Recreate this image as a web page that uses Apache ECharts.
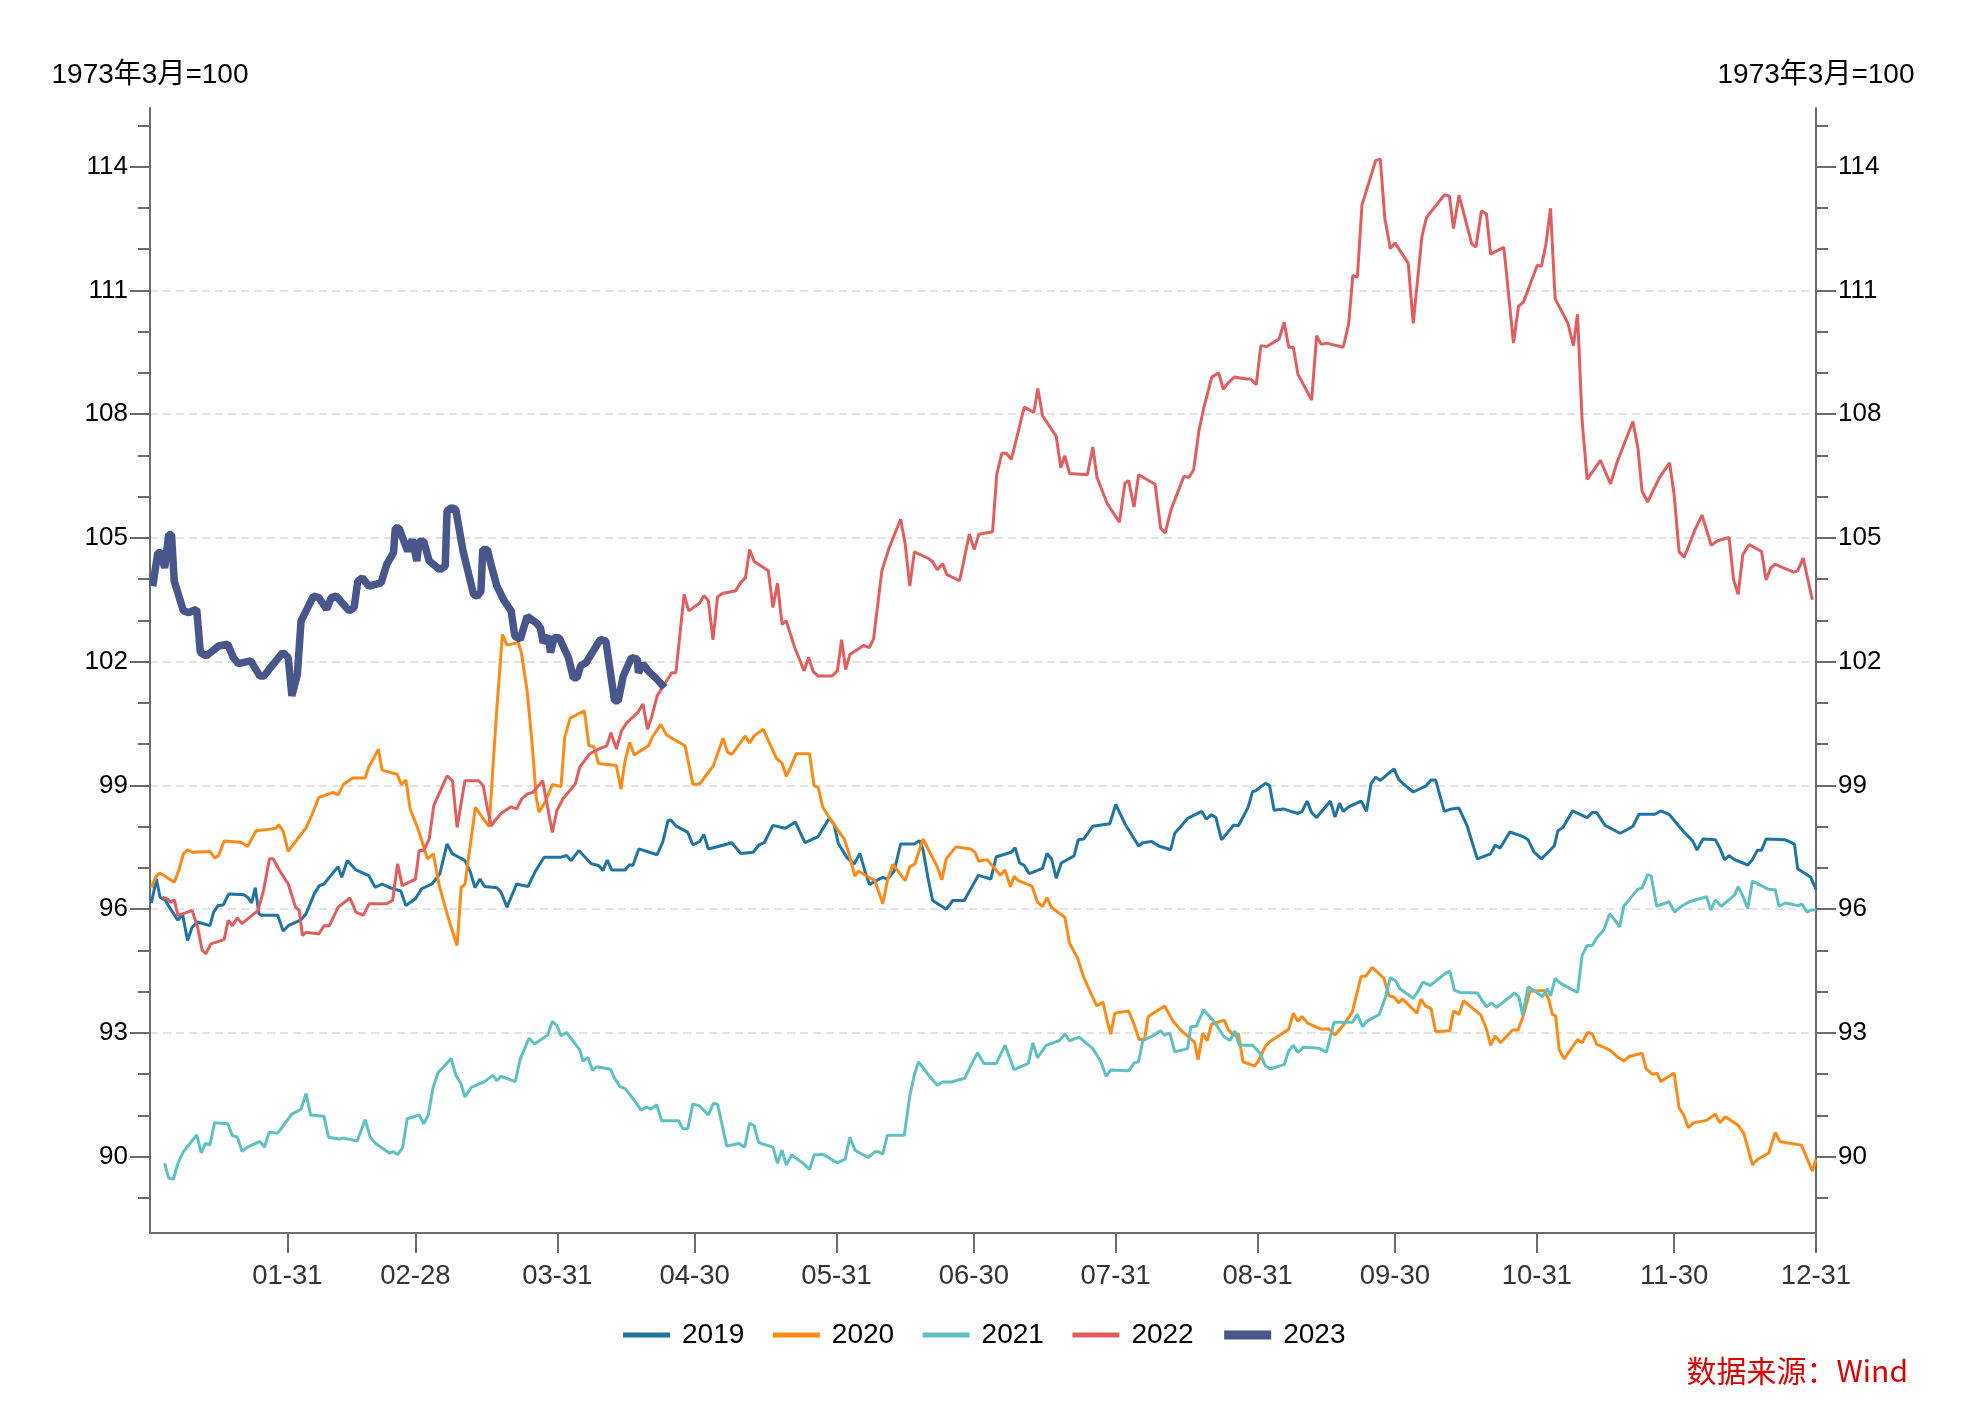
<!DOCTYPE html>
<html><head><meta charset="utf-8">
<script src="https://cdn.jsdelivr.net/npm/echarts@6/dist/echarts.min.js"></script>
<style>html,body{margin:0;padding:0;background:#fff}#c{width:1966px;height:1407px}</style>
</head><body><div id="c"></div>
<script>
// ---- data (x = day of year, 0 = 01-01 ; y = index, 1973年3月=100) ----
const years = ['2019', '2020', '2021', '2022', '2023'];

const s2019 = [[0.3,96.15],[1.4,96.73],[2.2,96.29],[3.4,96.21],[4.5,96.0],[6.1,95.73],[7.1,95.89],[8.2,95.24],[9.2,95.56],[10.4,95.69],[13.1,95.6],[13.9,95.93],[14.9,96.09],[16,96.1],[17.2,96.37],[20.5,96.35],[21.3,96.29],[22.2,96.15],[23,96.52],[23.8,95.89],[24.4,95.85],[27.9,95.85],[28.3,95.83],[29.1,95.47],[30.2,95.6],[33,95.74],[34.1,95.89],[35.9,96.37],[37,96.57],[38,96.61],[41.1,97.03],[41.9,96.77],[43.1,97.18],[45,96.95],[47.8,96.81],[49.2,96.53],[50.7,96.61],[52.4,96.52],[54.8,96.44],[55.9,96.09],[58,96.25],[59.3,96.49],[61.6,96.61],[63.3,96.85],[64.9,97.58],[66.1,97.34],[68.8,97.18],[70,96.9],[71,96.52],[72.1,96.73],[73.1,96.55],[75.8,96.52],[76.7,96.41],[78,96.05],[80.1,96.61],[82.6,96.55],[84.2,96.92],[86.1,97.26],[89.8,97.26],[91,97.3],[92,97.18],[93.7,97.42],[96.4,97.1],[98,97.06],[99,96.94],[99.9,97.19],[100.9,96.95],[103.8,96.95],[104.8,97.08],[105.5,97.06],[106.8,97.46],[110.8,97.32],[112,97.62],[113.2,98.15],[113.8,98.16],[114.9,98.02],[117.5,97.86],[118.6,97.56],
[120.1,97.64],[121,97.81],[122,97.46],[125.2,97.55],[127.1,97.61],[129.1,97.35],[131.8,97.38],[133,97.55],[134.2,97.61],[136.1,98.03],[138.8,97.96],[141,98.11],[143.1,97.61],[145.9,97.75],[148.4,98.2],[149.4,98.07],[150.4,97.59],[152.3,97.25],[153.8,97.09],[155.1,97.35],[156.2,96.92],[157.2,96.6],[158.7,96.69],[160.1,96.77],[161.1,96.73],[162.6,96.92],[164,97.58],[167,97.58],[168.1,97.66],[168.9,97.44],[170.1,96.69],[171,96.21],[174,96.0],[175.4,96.21],[177.9,96.21],[181,96.82],[182.5,96.77],[183.7,96.73],[184.9,97.27],[188.2,97.38],[189,97.49],[190,97.12],[191,97.06],[192.1,96.86],[195,96.99],[196,97.35],[197,97.21],[198,96.75],[199.1,97.12],[201.9,97.29],[202.8,97.68],[204,97.7],[206,98.01],[209.7,98.07],[211,98.54],[213,98.07],[216,97.53],[216.9,97.61],[218.9,97.64],[220.4,97.53],[223,97.44],[223.9,97.84],[226.7,98.2],[229.8,98.37],[230.8,98.18],[231.9,98.29],[232.9,98.22],[234.1,97.68],[236.8,98.04],[237.8,98.02],[239.9,98.46],[240.9,98.85],
[241.6,98.87],[243.7,99.05],[244.6,99.0],[245.6,98.4],[247.6,98.43],[250.8,98.32],[251.7,98.37],[252.8,98.62],[253.8,98.34],[254.9,98.22],[257.9,98.62],[258.9,98.23],[259.9,98.57],[260.7,98.37],[261.9,98.48],[264.6,98.62],[265.8,98.37],[266.8,99.05],[267.8,99.2],[268.8,99.12],[271.8,99.4],[272.8,99.15],[273.9,99.03],[276,98.84],[278.7,98.98],[279.9,99.13],[280.9,99.13],[282.8,98.37],[284.4,98.43],[286,98.45],[287.8,98.01],[290,97.22],[292.9,97.34],[293.9,97.55],[295,97.48],[297.1,97.87],[300,97.76],[301.1,97.68],[302.4,97.38],[304,97.22],[306.8,97.53],[307.6,97.9],[308.7,97.98],[310.8,98.38],[314,98.22],[315.1,98.34],[316.1,98.34],[317.9,98.03],[321.2,97.84],[322.8,97.93],[324,98.01],[325.3,98.3],[328.8,98.3],[330.1,98.38],[331.9,98.3],[334.9,97.9],[337.1,97.65],[338,97.43],[339.3,97.7],[342,97.68],[343,97.48],[344,97.2],[345,97.3],[346.2,97.2],[349.1,97.07],[350.1,97.2],[351.2,97.43],[352.1,97.43],[353.1,97.7],[357.3,97.68],[358.3,97.63],[359.3,97.57],[360,96.98],[362.8,96.78],[364,96.48]];

const s2020 = [[0.3,96.53],[1.4,96.81],[2.2,96.87],[3.8,96.76],[5.3,96.65],[6.3,96.94],[7.3,97.34],[8.2,97.44],[9.2,97.38],[13.1,97.4],[14.1,97.24],[15,97.3],[16.2,97.65],[19.7,97.62],[20.3,97.6],[21.3,97.52],[23.2,97.9],[26.3,97.94],[27.5,97.96],[28.1,98.05],[29.1,97.89],[30.2,97.4],[32.2,97.7],[34.1,97.97],[35.3,98.27],[36.9,98.71],[38,98.75],[40,98.83],[41.1,98.77],[42.3,99.03],[44.3,99.18],[47,99.18],[47.8,99.45],[48.9,99.66],[49.9,99.88],[50.7,99.37],[51.7,99.34],[54,99.27],[54.9,99.02],[55.9,99.13],[56.9,98.4],[58.3,98.02],[59.4,97.66],[60.6,97.22],[61.1,97.26],[61.9,97.34],[63.2,96.57],[64.5,96.05],[65.8,95.56],[67.1,95.12],[68,96.53],[68.8,96.6],[70,97.58],[71.1,98.47],[72.7,98.21],[74.1,98.0],[75,99.56],[75.8,100.89],[77,102.66],[78,102.4],[80.5,102.46],[81.2,102.18],[82.4,101.29],[83.4,100.12],[84.4,98.71],[85,98.35],[86.3,98.59],[87.9,99.02],[89.8,98.97],[90.6,100.16],[91.8,100.63],[94.9,100.81],[95.9,99.96],[97,99.94],[98,99.53],[101.9,99.48],[102.9,98.91],[103.8,99.6],[104.8,100.04],[105.8,99.74],[108.9,99.96],[109.7,100.16],[111.6,100.48],[112.8,100.23],[114.7,100.1],[116.9,99.96],[118.6,99.03],[119.4,99.03],
[120.1,99.04],[123.1,99.48],[125.2,100.14],[126.2,99.8],[127.1,99.75],[130.1,100.2],[131,100.03],[132,100.2],[134,100.36],[136.9,99.65],[138.1,99.54],[139,99.22],[140,99.45],[141.2,99.77],[144.1,99.77],[145.1,98.99],[146,98.95],[147,98.47],[148.4,98.22],[151.7,97.7],[152.7,97.35],[154,96.8],[154.8,96.92],[158.4,96.69],[160.1,96.13],[161.1,96.69],[162.3,97.09],[165,96.69],[166,97.03],[167.1,97.09],[168.9,97.7],[172,97.03],[173,96.71],[174,97.23],[176.1,97.51],[179.3,97.46],[180.2,97.38],[181.1,97.16],[182.9,97.2],[185.8,96.82],[186.8,96.95],[188,96.54],[188.8,96.8],[189.7,96.69],[192.7,96.56],[193.9,96.17],[195,96.06],[196,96.28],[197,96.04],[199.9,95.8],
[200.9,95.18],[202.7,94.8],[204,94.35],[205.6,93.95],[206.9,93.65],[208.2,93.75],[209.1,93.31],[209.9,92.97],[210.8,93.48],[213.8,93.53],[215,93.21],[216.1,92.84],[217.3,92.84],[218.1,93.4],[221.7,93.65],[223.5,93.29],[225.1,93.08],[227,92.89],[228.2,92.78],[229,92.35],[230,93.0],[231,92.81],[231.9,93.21],[234.7,93.31],[235.6,93.08],[236.8,92.94],[237.8,92.98],[238.8,92.3],
[241.3,92.2],[242.2,92.32],[243.7,92.68],[244.8,92.8],[248.8,93.09],[249.8,93.48],[250.8,93.28],[251.7,93.4],[253,93.23],[255.9,93.09],[257.5,93.1],[258.9,92.95],[260.7,93.18],[262.7,93.51],[264.6,94.37],[265.7,94.38],[267,94.59],[268.6,94.43],[269.6,94.32],[270.7,93.9],[271.8,93.87],[272.8,93.73],[273.7,93.82],[276.8,93.48],[277.7,93.82],[278.7,93.65],[279.9,93.59],[280.9,93.03],[284,93.05],[284.8,93.53],[286,93.45],[287,93.78],[290.8,93.43],[292,93.09],[292.9,92.7],[293.9,92.93],[295.1,92.76],[297.7,93.07],[298.9,93.07],[300,93.4],[301.5,94.01],[304.6,94.03],[305.6,93.82],[306.4,93.45],[307.1,93.42],[307.9,92.59],[309,92.37],[311.9,92.84],[312.9,92.76],[314.1,93.01],[315.1,92.98],[316.1,92.72],[318.9,92.59],[320.5,92.43],[322,92.32],[323.2,92.43],[326,92.51],[326.9,92.13],[328.2,92.0],[329.3,92.02],[330.1,91.82],[333,92.03],[334.1,91.18],[335.1,91.01],[336.1,90.7],[337.2,90.82],[340.1,90.88],[342,91.03],[343,90.82],[344.2,90.97],[347,90.76],[348.2,90.57],[349.1,90.22],[350.1,89.8],[351.2,89.93],[353.7,90.09],[355.1,90.59],[356.1,90.37],[357.5,90.34],[360.8,90.28],[362,89.97],[363.2,89.65],[364,89.93]];

const s2021 = [[3.2,89.84],[4.1,89.48],[5.1,89.45],[6.1,89.84],[7.3,90.12],[10.2,90.53],[11.2,90.09],[12.1,90.32],[13.1,90.29],[14.1,90.82],[17,90.8],[18,90.51],[19.1,90.47],[20.1,90.13],[21.3,90.23],[24,90.37],[25,90.23],[26,90.59],[27.9,90.57],[31,91.03],[33,91.15],[34.1,91.53],[35.1,91.01],[38,90.98],[39,90.47],[41.4,90.43],[42.3,90.45],[45.3,90.38],[47,90.9],[48.1,90.48],[49.3,90.32],[52.3,90.09],[53.2,90.12],[54.1,90.05],[55.2,90.22],[56.2,90.92],[58.8,91.01],[59.8,90.8],[60.8,91.01],[61.8,91.65],[62.9,92.03],[65.8,92.38],[66.8,91.98],[67.9,91.78],[68.8,91.45],[70.2,91.68],[73.1,91.82],[74.9,91.97],[75.8,91.84],[76.7,91.95],[79.8,91.82],[80.9,92.37],[82.8,92.87],[84,92.73],[86.9,92.95],[87.9,93.28],[88.9,93.18],[89.8,92.93],[91,93.01],[93.9,92.59],[94.6,92.32],[95.7,92.4],[96.7,92.09],[97.6,92.18],[100.6,92.12],[101.5,91.9],[102.7,91.7],[103.8,91.65],[105.4,91.43],[107.3,91.13],[108.5,91.2],[109.4,91.15],[110.7,91.26],[111.8,90.87],[115.5,90.87],[116.4,90.68],[117.5,90.68],[118.6,91.28],
[120.1,91.23],[122,91.01],[123.1,91.29],[124,91.27],[124.9,90.82],[126,90.26],[128.7,90.32],[129.9,90.23],[131,90.81],[132,90.75],[133,90.34],[136.1,90.23],[137.1,89.84],[138.1,90.16],[139,89.8],[140.2,90.04],[142.7,89.84],[144.1,89.69],[145.1,90.04],[147,90.06],[150.2,89.85],[151.9,89.94],[152.9,90.47],[154.1,90.15],[156.9,89.98],[158.4,90.12],[159.2,90.12],[160.1,90.06],[161.1,90.52],[164.8,90.52],[166,91.47],[167,91.98],[167.9,92.3],[170.1,91.98],[172,91.73],[173.2,91.81],[175.1,91.81],[178,91.9],[179.4,92.22],[180.8,92.52],[182.2,92.26],[184.9,92.26],[186.8,92.7],[188.8,92.11],[191.9,92.26],[192.9,92.76],[193.9,92.4],[195.8,92.7],[198.6,92.81],[199.9,92.97],[200.9,92.81],[203,92.9],[206,92.62],[207.7,92.32],[208.9,91.95],[209.9,92.1],[213.8,92.08],[215,92.27],[216,92.3],[216.9,92.81],[218.9,92.92],[220.8,93.05],[221.6,92.95],[222.8,93.0],[223.9,92.54],[226.7,92.62],[227.4,93.15],[228.6,93.16],[230.2,93.56],[232.5,93.27],[234.7,92.9],[236,92.82],[237,93.05],[238,92.7],[240.9,92.7],
[242.5,92.51],[243.7,92.2],[244.8,92.13],[247.8,92.23],[248.8,92.57],[249.8,92.7],[250.8,92.53],[252,92.65],[255.5,92.63],[257,92.53],[258.7,93.26],[262.7,93.26],[263.8,93.45],[264.9,93.15],[265.8,93.28],[268.6,93.45],[269.8,93.82],[271,94.34],[272.2,94.26],[273.1,94.07],[276,93.84],[276.9,93.98],[278.1,94.23],[279.7,94.15],[283.1,94.45],[284,94.5],[285,94.03],[286.3,93.98],[290,93.97],[291.2,93.76],[292,93.63],[293.1,93.73],[294.2,93.62],[297.1,93.87],[298.1,93.97],[299.1,93.87],[299.9,93.43],[301.1,94.12],[303,93.98],[304.2,93.88],[305.3,94.07],[306,93.9],[307,94.32],[308.2,94.2],[311.9,93.98],[312.9,94.88],[314,95.12],[315.1,95.12],[316.1,95.3],[317.7,95.51],[318.9,95.88],[320.1,95.73],[321.1,95.57],[322,96.07],[323.2,96.23],[325,96.48],[326,96.51],[327.2,96.84],[328,96.8],[329.2,96.07],[331.9,96.18],[333.1,95.93],[334.9,96.09],[336.3,96.18],[340.1,96.3],[341,95.98],[342,96.22],[343.3,96.07],[346.2,96.34],[347,96.55],[348,96.32],[349.1,96.01],[350.1,96.68],[353.7,96.48],[355.1,96.47],[355.9,96.07],[357.3,96.15],[360,96.09],[361,96.12],[362,95.93],[363,95.98],[364,95.98]];

const s2022 = [[2.7,96.29],[3.8,96.25],[4.5,96.17],[5.3,96.23],[6.1,95.85],[7.3,95.89],[9.2,95.97],[10.4,95.56],[11.4,95.0],[12.2,94.92],[13.3,95.16],[16.2,95.26],[17.1,95.73],[18,95.6],[19.1,95.79],[20.1,95.65],[23.6,95.97],[24.8,96.45],[26.1,97.22],[26.9,97.22],[28.3,96.94],[30.2,96.61],[31.8,96.05],[32.6,95.97],[33.3,95.36],[34.1,95.44],[36.9,95.4],[38,95.6],[39.2,95.6],[41.1,96.05],[43.7,96.27],[45,95.93],[46.6,95.85],[47.9,96.13],[51.7,96.13],[53,96.21],[54.1,97.1],[55.1,96.57],[58,96.73],[58.8,97.42],[59.8,97.42],[61,97.7],[62,98.51],[64.9,99.23],[66.1,99.11],[67.1,97.98],[68.8,99.11],[71.9,99.11],[72.8,98.99],[73.8,98.39],[74.6,98.02],[75.4,98.15],[76.6,98.31],[78.9,98.48],[80.1,98.43],[81.2,98.67],[82.4,98.79],[83.6,98.83],[85.8,99.11],[87.9,97.86],[88.9,98.39],[90.2,98.67],[92.9,99.03],[93.9,99.44],[96,99.76],[98,99.88],[99.8,99.96],[100.7,100.28],[101.9,99.88],[103,100.32],[104.2,100.52],[106.6,100.77],[107.7,100.97],[108.7,100.36],[109.7,100.69],[110.8,101.17],[114,101.73],[114.9,101.73],[116.7,103.63],[117.7,103.23],
[120.1,103.42],[121,103.6],[122,103.48],[123,102.53],[124,103.57],[125.2,103.66],[127.9,103.71],[129.1,103.92],[130.1,104.03],[131,104.72],[132,104.43],[135.1,104.2],[136.1,103.31],[137.1,103.9],[138.1,102.9],[139,102.99],[140.8,102.36],[142.9,101.78],[143.9,102.1],[144.9,101.76],[146,101.65],[149,101.65],[150.2,101.78],[151.1,102.53],[152,101.81],[152.9,102.17],[155.9,102.39],[157.2,102.34],[158.1,102.56],[159.9,104.2],[161.5,104.76],[164,105.45],[165,104.85],[166,103.83],[167,104.66],[170.1,104.5],[171,104.42],[172,104.23],[173.2,104.37],[174.1,104.11],[176.9,103.96],[178,104.55],[179,105.09],[180.1,104.72],[181.1,105.09],[184.1,105.15],[185,106.53],[186.1,107.05],[187.1,107.05],[188.2,106.9],[191,108.17],[192.3,108.09],[193.1,108.04],[194,108.62],[195,107.96],[198,107.46],[199,106.7],[199.9,106.99],[200.9,106.56],[204.8,106.53],[206,107.2],[206.9,106.47],[209.1,105.84],[211.8,105.38],[213,106.32],[213.8,106.39],[215,105.75],[216,106.53],[219.6,106.3],[220.8,105.24],[221.8,105.12],[223.1,105.69],[225.9,106.49],[227,106.47],[228,106.64],[229.2,107.61],[230.2,108.13],
[232,108.9],[233.5,109.0],[234.5,108.6],[235.5,108.75],[237,108.9],[239.5,108.85],[240.5,108.85],
[241.7,108.71],[242.7,109.66],[244,109.64],[246.7,109.82],[247.8,110.23],[248.8,109.62],[249.8,109.62],[250.8,108.97],[253.8,108.34],[254.9,109.9],[255.9,109.69],[257,109.72],[260.7,109.62],[261.9,110.19],[262.8,111.36],[263.8,111.32],[264.8,113.07],[267.8,114.15],[268.8,114.18],[269.8,112.74],[271,112.01],[272,112.15],[274.9,111.66],[276,110.2],[277.9,112.3],[278.9,112.77],[282.8,113.31],[283.9,113.29],[284.8,112.5],[286,113.31],[288.8,112.12],[289.7,112.05],[290.9,112.93],[292,112.85],[292.9,111.88],[295.8,112.04],[297.9,109.72],[299,110.61],[300.1,110.72],[303.1,111.61],[304,111.58],[305,112.12],[306,112.99],[307,110.8],[309.8,110.2],[311,109.66],[311.9,110.42],[312.9,107.84],[314,106.42],[316.9,106.88],[319.1,106.31],[320.5,106.82],[324,107.82],[325.1,107.17],[326,106.13],[327.2,105.87],[329.8,106.46],[332,106.82],[333,106.05],[334.1,104.66],[335.2,104.53],[337.5,105.18],[339.1,105.55],[341.1,104.82],[342.5,104.93],[345,105.01],[346,103.98],[347,103.63],[348,104.59],[349.4,104.84],[352.1,104.67],[353.1,103.98],[354.1,104.27],[355.1,104.36],[359.1,104.17],[360,104.2],[361.2,104.51],[363.2,103.5]];

const s2023 = [[0.6,103.83],[1.7,104.64],[2.4,104.64],[3.2,104.27],[4.1,105.08],[4.7,105.08],[5.3,103.95],[7.3,103.23],[8.5,103.19],[10.2,103.27],[11,102.22],[12.3,102.14],[15,102.38],[17,102.42],[18.2,102.1],[19.3,101.95],[22,102.02],[24,101.65],[24.9,101.65],[26,101.81],[29,102.22],[30.2,102.1],[31,101.17],[32.2,101.7],[33,102.98],[35.7,103.59],[36.9,103.55],[38.6,103.27],[39.6,103.55],[40.7,103.59],[43.5,103.23],[44.6,103.31],[45.4,103.95],[46.4,104.03],[47.8,103.83],[50.5,103.91],[51.7,104.35],[53.2,104.64],[53.6,105.24],[54.4,105.24],[56.3,104.68],[57.3,104.96],[58.3,104.44],[58.8,104.92],[59.8,104.92],[61,104.44],[63.3,104.23],[64.5,104.31],[64.9,105.65],[65.8,105.73],[66.8,105.69],[68.4,104.68],[70.7,103.63],[71.5,103.59],[72.3,103.7],[72.7,104.72],[73.7,104.72],[74.6,104.31],[75.8,103.83],[77.4,103.47],[78.9,103.23],[79.7,102.62],[80.9,102.54],[82.4,103.1],[84.4,102.94],[85.3,102.82],[85.9,102.46],[87.1,102.62],[87.5,102.22],[88.3,102.58],[89.4,102.58],[91.4,102.1],[92.5,101.61],[93.3,101.61],[94.1,101.9],[95.3,101.98],[98.4,102.54],[99.6,102.5],[101.5,101.05],[102.3,101.05],[103.4,101.65],[105.2,102.1],[106.5,102.06],[106.7,101.73],[107.7,101.94],[108.9,101.77],[110.8,101.57],[112.4,101.37]];

const xTickDays = [30, 58, 89, 119, 150, 180, 211, 242, 272, 303, 333, 364];
const xTickLabels = ['01-31', '02-28', '03-31', '04-30', '05-31', '06-30', '07-31', '08-31', '09-30', '10-31', '11-30', '12-31'];
const yTickValues = [90, 93, 96, 99, 102, 105, 108, 111, 114];
const yMinorTickValues = [89, 91, 92, 94, 95, 97, 98, 100, 101, 103, 104, 106, 107, 109, 110, 112, 113, 115];
const yUnitName = '1973年3月=100';
const sourceText = '数据来源：Wind';

// ---- chart ----
const seriesData = [s2019, s2020, s2021, s2022, s2023];
const colors = ['#1f74a3', '#ff8a17', '#5fc0c2', '#e15e5f', '#48568c'];
const widths = [3, 3, 3, 3, 7.5];
const legendWidths = [5, 5, 5, 5, 9];
const FONT = "'Liberation Sans', 'Noto Sans CJK SC', sans-serif";
const Y_MIN = 88.15, Y_MAX = 115.42;
const axisGrey = '#6b6b6b';

function yAxisPair(pos, withName) {
  const main = {
    type: 'value', position: pos, min: Y_MIN, max: Y_MAX,
    splitNumber: 9, minInterval: 3, maxInterval: 3,
    axisLine: { show: true, lineStyle: { color: axisGrey, width: 2 } },
    axisTick: { show: true, length: 20, customValues: yTickValues, lineStyle: { color: axisGrey, width: 2 } },
    axisLabel: { show: true, customValues: yTickValues, margin: 22, fontSize: 26, color: '#000', fontFamily: FONT },
    splitLine: pos === 'left' ? { show: true, showMinLine: false, showMaxLine: false,
      lineStyle: { type: [8, 5], color: '#dadada', width: 1.5 } } : { show: false },
    name: withName ? yUnitName : '', nameLocation: 'end', nameGap: 19,
    nameTextStyle: { fontSize: 28, color: '#000', fontFamily: FONT }
  };
  const minor = {
    type: 'value', position: pos, min: Y_MIN, max: Y_MAX,
    axisLine: { show: false },
    axisTick: { show: true, length: 12, customValues: yMinorTickValues, lineStyle: { color: axisGrey, width: 2 } },
    axisLabel: { show: false }, splitLine: { show: false }
  };
  return [main, minor];
}

const chart = echarts.init(document.getElementById('c'), null, { renderer: 'canvas' });
chart.setOption({
  animation: false,
  backgroundColor: '#fff',
  grid: { left: 150, top: 108, width: 1666, height: 1125, containLabel: false },
  legend: {
    data: years.map((y, i) => ({ name: y, lineStyle: { width: legendWidths[i] } })),
    left: 'center', top: 1316, itemWidth: 47, itemHeight: 14, itemGap: 26,
    itemStyle: { opacity: 0 },
    textStyle: { fontSize: 28, color: '#000', fontFamily: FONT, padding: [0, 0, 0, 7] }
  },
  xAxis: {
    type: 'value', min: 0, max: 364,
    axisLine: { show: true, onZero: false, lineStyle: { color: axisGrey, width: 2 } },
    axisTick: { show: true, length: 20, customValues: xTickDays, lineStyle: { color: axisGrey, width: 2 } },
    axisLabel: { show: true, customValues: xTickDays, margin: 30, fontSize: 27.5, color: '#333', fontFamily: FONT,
      formatter: v => xTickLabels[xTickDays.indexOf(v)] || '' },
    splitLine: { show: false }
  },
  yAxis: [...yAxisPair('left', true), ...yAxisPair('right', true)],
  series: years.map((y, i) => ({
    name: y, type: 'line', data: seriesData[i], xAxisIndex: 0, yAxisIndex: 0,
    showSymbol: false, symbol: 'none', z: 2 + i,
    lineStyle: { width: widths[i], color: colors[i] }, itemStyle: { color: colors[i] }
  })),
  graphic: [{
    type: 'text', right: 58, top: 1356,
    style: { text: sourceText, fill: '#d90000', font: "30px 'Noto Sans CJK SC', sans-serif" }
  }]
});
</script></body></html>
